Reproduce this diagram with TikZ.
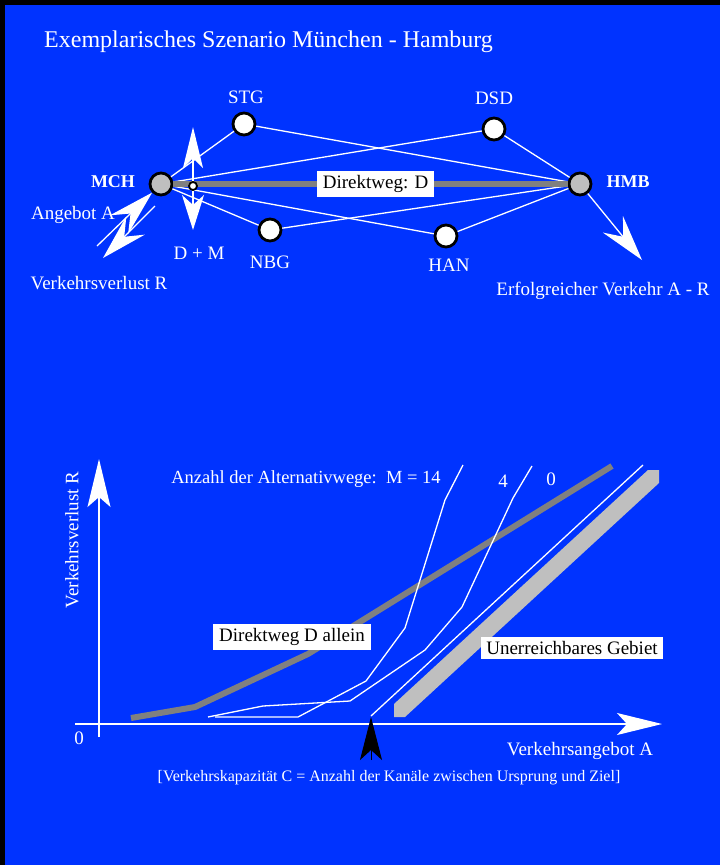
\documentclass[tikz,border=0pt]{standalone}
\usepackage{fontspec}
\setmainfont{Liberation Serif}
\usetikzlibrary{arrows.meta}
\definecolor{bg}{RGB}{0,51,255}
\begin{document}
\begin{tikzpicture}[x=1pt,y=-1pt,
  lbl/.style={text=white,font=\fontsize{19}{22}\selectfont,inner sep=0pt},
  small/.style={text=white,font=\fontsize{16}{19}\selectfont,inner sep=0pt},
  city/.style={circle,draw=black,line width=2.8pt,fill=white,minimum size=22pt,inner sep=0pt},
  hub/.style={city,fill=black!25},
  link/.style={white,line width=1.3pt},
  box/.style={fill=white,text=black,font=\fontsize{19}{22}\selectfont,inner sep=5pt},
  thin/.style={white,line width=1.3pt}
]
\fill[black] (0,0) rectangle (720,865);
\fill[bg] (5,5) rectangle (720,865);
\useasboundingbox (0,0) rectangle (720,865);

% title
\node[text=white,anchor=base west,inner sep=0pt,font=\fontsize{24}{28}\selectfont] (title) at (44,47) {Exemplarisches Szenario München - Hamburg};

% network nodes
\node[hub] (MCH) at (161,184) {};
\node[hub] (HMB) at (580,184) {};
\node[city] (STG) at (244,124) {};
\node[city] (DSD) at (494,129) {};
\node[city] (NBG) at (270,230) {};
\node[city] (HAN) at (446,236) {};

% links
\draw[link] (MCH) -- (STG);
\draw[link] (MCH) -- (DSD);
\draw[link] (MCH) -- (NBG);
\draw[link] (MCH) -- (HAN);
\draw[link] (STG) -- (HMB);
\draw[link] (DSD) -- (HMB);
\draw[link] (NBG) -- (HMB);
\draw[link] (HAN) -- (HMB);
\draw[black!50,line width=6pt] (MCH) -- node[box,pos=0.513,inner xsep=6pt,inner ysep=4pt] (dlab) {Direktweg: D} (HMB);

% labels
\node[lbl] (lSTG) at (246,97) {STG};
\node[lbl] (lDSD) at (494,98) {DSD};
\node[lbl] (lNBG) at (270,262) {NBG};
\node[lbl] (lHAN) at (449,265) {HAN};
\node[lbl,font=\bfseries\fontsize{18}{21}\selectfont] (lMCH) at (113,182) {MCH};
\node[lbl,font=\bfseries\fontsize{18}{21}\selectfont] (lHMB) at (628,182) {HMB};
\node[lbl] (lDM) at (199,253) {D + M};
\node[lbl] (lA) at (73,215) {Angebot A};
\node[lbl] (lR) at (99,283) {Verkehrsverlust R};
\node[lbl] (lAR) at (603,291) {Erfolgreicher Verkehr A - R};

% D+M marker and arrows
\node[circle,draw=black,line width=1.8pt,fill=white,minimum size=8pt,inner sep=0pt] (dm) at (193,186) {};
\coordinate (upT) at (193,127);
\coordinate (dnT) at (193,230);
\draw[thin,-{Stealth[length=41pt,width=20pt,inset=10pt]}] (dm) -- (upT);
\draw[thin,-{Stealth[length=35pt,width=22pt,inset=10pt]}] (dm) -- (dnT);

% MCH arrows
\coordinate (aStart) at (97,246);
\draw[thin,-{Stealth[length=46pt,width=26pt,inset=16pt]}] (aStart) -- (MCH);
\coordinate (rStart) at (155,206);
\coordinate (rEnd) at (103,258);
\draw[thin,-{Stealth[length=46pt,width=26pt,inset=16pt]}] (rStart) -- (rEnd);

% HMB arrow
\coordinate (hEnd) at (642,260);
\draw[thin,-{Stealth[length=46pt,width=26pt,inset=16pt]}] (HMB) -- (hEnd);

% ===== chart =====
\coordinate (yB) at (99,737);
\coordinate (yT) at (99,459);
\coordinate (xL) at (75,724);
\coordinate (xR) at (662,724);
\draw[thin,-{Stealth[length=48pt,width=23pt,inset=10pt]}] (yB) -- (yT);
\draw[thin,-{Stealth[length=45pt,width=22pt,inset=10pt]}] (xL) -- (xR);

% unreachable band
\fill[black!25] (394,704) -- (394,717) -- (405,717) -- (659,483) -- (659,470) -- (648,470) -- cycle;

% direct-only curve
\draw[black!50,line width=6pt] (131,718) -- (195,707) -- (308,654) -- (612,466);

% M curves
\draw[thin] (371,716) -- (643,465);
\draw[thin] (208,717) -- (263,706) -- (350,701) -- (425,650) -- (462,607) -- (513,498) -- (532,466);
\draw[thin] (215,717) -- (298,717) -- (366,681) -- (405,628) -- (445,500) -- (463,465);

% black capacity arrow
\coordinate (cB) at (371,760);
\coordinate (cT) at (371,717);
\draw[black,line width=1pt,-{Stealth[length=43pt,width=22pt,inset=10pt]}] (cB) -- (cT);

% chart labels
\node[box,inner xsep=6pt,inner ysep=4pt] (dal) at (292,637) {Direktweg D allein};
\node[box,inner xsep=5pt,inner ysep=4pt] (ug) at (572,648) {Unerreichbares Gebiet};
\node[lbl,font=\fontsize{18.5}{22}\selectfont] (lM) at (306,479) {Anzahl der Alternativwege:\ \ M = 14};
\node[lbl] (l4) at (503,481) {4};
\node[lbl] (l0) at (551,479) {0};
\node[lbl] (lzero) at (79,738) {0};
\node[lbl,rotate=90] (lyax) at (72,540) {Verkehrsverlust R};
\node[lbl] (lxax) at (580,751) {Verkehrsangebot A};
\node[small] (note) at (389,778) {[Verkehrskapazität C = Anzahl der Kanäle zwischen Ursprung und Ziel]};
\end{tikzpicture}
\end{document}
